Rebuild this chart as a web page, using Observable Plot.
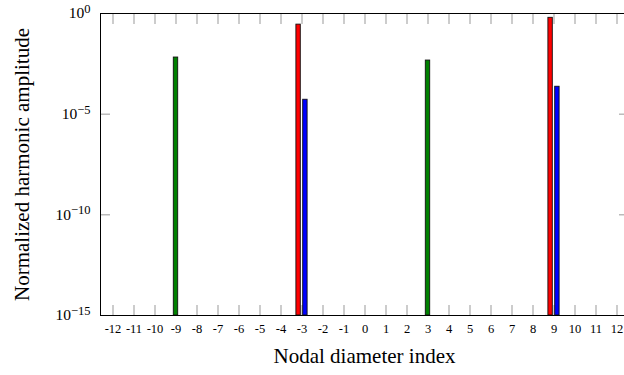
<!DOCTYPE html>
<html>
<head>
<meta charset="utf-8">
<script src="https://cdn.jsdelivr.net/npm/d3@7"></script>
<script src="https://cdn.jsdelivr.net/npm/@observablehq/plot@0.6"></script>
<style>
  html, body { margin: 0; padding: 0; background: #fff; overflow: hidden; }
  #chart svg { display: block; }
</style>
</head>
<body>
<div id="chart"></div>
<script>
// Categories (nodal diameter index)
const categories = [-12,-11,-10,-9,-8,-7,-6,-5,-4,-3,-2,-1,0,1,2,3,4,5,6,7,8,9,10,11,12];
// Y-axis ticks
const yTicks = [1, 1e-5, 1e-10, 1e-15];
const yMin = 1e-15;
// Series
const redIndex = [-3, 9];
const redValues = [0.28, 0.61];
const greenIndex = [-9, 3];
const greenValues = [6.5e-3, 4.6e-3];
const blueIndex = [-3, 9];
const blueValues = [5.2e-5, 2.3e-4];
const xLabel = "Nodal diameter index";
const yLabel = "Normalized harmonic amplitude";

const red = redIndex.map((nd, i) => ({nd, v: redValues[i]}));
const green = greenIndex.map((nd, i) => ({nd, v: greenValues[i]}));
const blue = blueIndex.map((nd, i) => ({nd, v: blueValues[i]}));

const FONT = "'Liberation Serif', 'Times New Roman', serif";
const inset = 8.3;
const barOpts = (fill, dx) => ({x: "nd", y1: yMin, y2: "v", fill, stroke: "#111", strokeWidth: 0.9, insetLeft: inset, insetRight: inset, dx});

const plot = Plot.plot({
  width: 624,
  height: 375,
  marginLeft: 100,
  marginRight: -4,
  marginTop: 13,
  marginBottom: 60,
  style: {fontFamily: FONT, background: "white", overflow: "hidden"},
  x: {type: "band", domain: categories, padding: 0},
  y: {type: "log", domain: [yMin, 1]},
  marks: [
    Plot.axisX({anchor: "bottom", tickSize: 0, tickPadding: 9, fontSize: 12.5, tickFormat: d => String(d), label: null}),
    Plot.axisX({anchor: "bottom", tickSize: -10, tickFormat: () => "", stroke: "#999", label: null}),
    Plot.axisX({anchor: "top", tickSize: -10, tickFormat: () => "", stroke: "#999", label: null}),
    Plot.axisY({anchor: "left", ticks: yTicks, tickSize: -10, tickFormat: () => "", stroke: "#999", label: null}),
    Plot.axisY({anchor: "right", ticks: yTicks, tickSize: -10, tickFormat: () => "", stroke: "#999", label: null}),
    Plot.axisY({anchor: "left", ticks: yTicks, tickSize: 0, tickPadding: 10, fontSize: 15.5,
      tickFormat: d => "10^" + Math.round(Math.log10(d)), label: null}),
    Plot.barY(red, barOpts("#ff0000", -3.4)),
    Plot.barY(green, barOpts("#008000", 0)),
    Plot.barY(blue, barOpts("#0000ff", 3.4)),
    Plot.frame({stroke: "black", strokeWidth: 1}),
    Plot.text([xLabel], {frameAnchor: "bottom", dy: 47, fontSize: 21, fill: "black", textAnchor: "middle", fontFamily: FONT}),
    Plot.text([yLabel], {frameAnchor: "left", dx: -78, rotate: -90, fontSize: 21, fill: "black", textAnchor: "middle", fontFamily: FONT})
  ]
});

d3.select(plot).selectAll('g[aria-label="y-axis tick label"] text').each(function() {
  const t = d3.select(this);
  const s = t.text();
  if (!s.startsWith("10^")) return;
  const exp = s.slice(3).replace("-", "\u2212");
  t.text(null);
  t.append("tspan").text("10");
  t.append("tspan").attr("dy", "-0.45em").attr("font-size", "12.5").text(exp);
});

document.getElementById("chart").appendChild(plot);
</script>
</body>
</html>
